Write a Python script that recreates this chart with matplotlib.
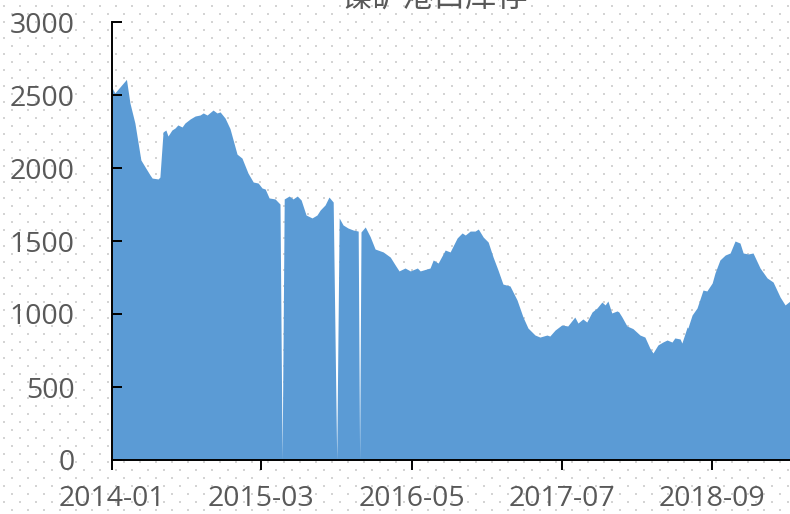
import numpy as np
import pandas as pd
import matplotlib
matplotlib.use("Agg")
import matplotlib.pyplot as plt

# nickel ore port inventory
dates = [
    "2014-01-01", "2014-01-09", "2014-02-11", "2014-02-21", "2014-03-07", "2014-03-24",
    "2014-04-05", "2014-04-19", "2014-04-25", "2014-05-12", "2014-05-17", "2014-05-26",
    "2014-06-03", "2014-06-09", "2014-06-20", "2014-06-29", "2014-07-07", "2014-07-19",
    "2014-07-27", "2014-08-11", "2014-08-25", "2014-09-08", "2014-09-17", "2014-09-28",
    "2014-10-15", "2014-10-26", "2014-11-04", "2014-11-18", "2014-12-02", "2014-12-22",
    "2015-01-05", "2015-01-22", "2015-02-06", "2015-02-20", "2015-03-03", "2015-03-12",
    "2015-03-23", "2015-04-09", "2015-04-23", "2015-04-29", "2015-05-05", "2015-05-19",
    "2015-05-30", "2015-06-11", "2015-06-22", "2015-07-06", "2015-07-23", "2015-08-06",
    "2015-08-15", "2015-08-29", "2015-09-09", "2015-09-21", "2015-10-01", "2015-10-08",
    "2015-10-19", "2015-11-02", "2015-11-17", "2015-12-01", "2015-12-05", "2015-12-09",
    "2015-12-21", "2016-01-04", "2016-01-18", "2016-02-10", "2016-03-01", "2016-03-15",
    "2016-03-26", "2016-04-12", "2016-04-27", "2016-05-17", "2016-05-25", "2016-06-22",
    "2016-07-01", "2016-07-15", "2016-08-04", "2016-08-18", "2016-09-07", "2016-09-21",
    "2016-09-30", "2016-10-14", "2016-10-28", "2016-11-06", "2016-11-20", "2016-12-04",
    "2016-12-18", "2017-01-01", "2017-01-15", "2017-02-04", "2017-02-24", "2017-03-13",
    "2017-03-27", "2017-04-16", "2017-04-30", "2017-05-20", "2017-05-28", "2017-06-12",
    "2017-07-01", "2017-07-18", "2017-08-07", "2017-08-16", "2017-08-30", "2017-09-10",
    "2017-09-25", "2017-10-09", "2017-10-23", "2017-11-01", "2017-11-09", "2017-11-20",
    "2017-12-05", "2017-12-10", "2017-12-19", "2018-01-02", "2018-01-19", "2018-02-08",
    "2018-02-22", "2018-03-08", "2018-03-17", "2018-03-31", "2018-04-14", "2018-04-26",
    "2018-05-10", "2018-05-18", "2018-06-02", "2018-06-07", "2018-06-22", "2018-06-24",
    "2018-07-06", "2018-07-20", "2018-08-06", "2018-08-17", "2018-09-01", "2018-09-09",
    "2018-09-23", "2018-10-08", "2018-10-22", "2018-11-05", "2018-11-19", "2018-11-28",
    "2018-12-12", "2018-12-26", "2019-01-15", "2019-02-04", "2019-02-21", "2019-03-13",
    "2019-03-27", "2019-04-10",
]
stock = [
    2550, 2514, 2607, 2445, 2308, 2055,
    2007, 1952, 1931, 1925, 1938, 2247,
    2260, 2219, 2260, 2274, 2295, 2281,
    2308, 2336, 2356, 2363, 2377, 2363,
    2397, 2377, 2384, 2342, 2270, 2095,
    2068, 1966, 1904, 1897, 1863, 1856,
    1795, 1788, 1753, 0, 1788, 1808,
    1788, 1808, 1781, 1678, 1658, 1678,
    1712, 1747, 1801, 1767, 0, 1658,
    1610, 1589, 1575, 1568, 0, 1562,
    1596, 1530, 1445, 1425, 1390, 1336,
    1295, 1315, 1295, 1315, 1295, 1315,
    1370, 1349, 1438, 1425, 1521, 1555,
    1541, 1568, 1568, 1582, 1527, 1493,
    1390, 1301, 1205, 1192, 1096, 979,
    904, 856, 842, 856, 849, 890,
    925, 918, 979, 938, 966, 945,
    1014, 1041, 1082, 1062, 1089, 1007,
    1021, 1014, 979, 918, 900, 856,
    842, 767, 733, 788, 808, 822,
    808, 836, 829, 801, 911, 904,
    993, 1041, 1164, 1158, 1212, 1281,
    1370, 1404, 1418, 1500, 1486, 1418,
    1411, 1418, 1315, 1247, 1219, 1116,
    1062, 1089,
]
title = "镍矿港口库存"
tick_dates = ["2014-01-01", "2015-03-01", "2016-05-01", "2017-07-01", "2018-09-01"]
tick_labels = ["2014-01", "2015-03", "2016-05", "2017-07", "2018-09"]
y_ticks = [0, 500, 1000, 1500, 2000, 2500, 3000]

BLUE = "#5B9BD5"
GREY = "#595959"
plt.rcParams["font.family"] = ["Open Sans", "DejaVu Sans"]

x = pd.to_datetime(dates)

fig = plt.figure(figsize=(7.9, 5.14), dpi=100)

# dotted backdrop (Excel-style 10% pattern)
bg = fig.add_axes([0, 0, 1, 1], zorder=0)
bg.set_xlim(0, 790)
bg.set_ylim(514, 0)
bg.axis("off")
gx, gy = [], []
for r, yy in enumerate(np.arange(6, 514, 8)):
    off = 0 if r % 2 == 0 else 8
    for xx in np.arange(4 + off, 790, 16):
        gx.append(xx)
        gy.append(yy)
bg.scatter(gx, gy, s=1.6, marker="s", color="#d4d4d4", linewidths=0)

ax = fig.add_axes([112 / 790, 54 / 514, 1 - 112 / 790, 438 / 514], zorder=1)
ax.patch.set_alpha(0)
ax.fill_between(x, stock, 0, color=BLUE, linewidth=0)

ax.set_xlim(x[0], x[-1])
ax.set_ylim(0, 3000)
ax.set_yticks(y_ticks)
ax.set_xticks(pd.to_datetime(tick_dates))
ax.set_xticklabels(tick_labels)

for s in ["top", "right"]:
    ax.spines[s].set_visible(False)
for s in ["left", "bottom"]:
    ax.spines[s].set_color("black")
    ax.spines[s].set_linewidth(1.4)

ax.tick_params(axis="y", direction="in", length=7, width=1.4, color="black",
               labelsize=20.5, labelcolor=GREY, pad=27)
ax.tick_params(axis="x", direction="out", length=7, width=1.4, color="black",
               labelsize=20.5, labelcolor=GREY, pad=11)

fig.text(435 / 790, 1 - 8 / 514, title, ha="center", va="baseline",
         fontsize=22.5, color=GREY, family=["Noto Sans CJK SC", "DejaVu Sans"])

fig.savefig("out.png", dpi=100)
